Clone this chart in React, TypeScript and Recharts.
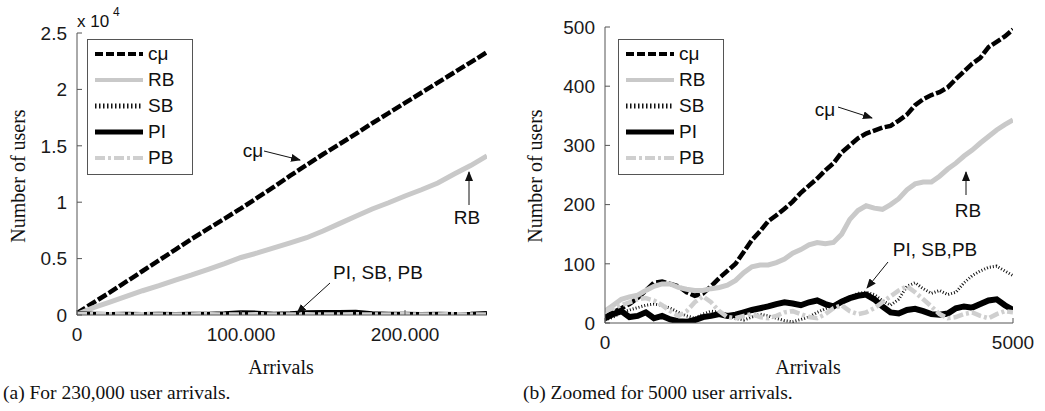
import { LineChart, Line, XAxis, YAxis, Legend } from 'recharts';

// (a) full run, sampled every 10,000 arrivals
const bigArrivals = [
  0, 10000, 20000, 30000, 40000, 50000, 60000, 70000, 80000, 90000, 100000, 110000, 120000,
  130000, 140000, 150000, 160000, 170000, 180000, 190000, 200000, 210000, 220000, 230000, 240000, 250000,
];
const bigCmu = [
  150, 1100, 2000, 2950, 3900, 4850, 5800, 6750, 7650, 8550, 9450, 10400, 11350,
  12350, 13300, 14250, 15150, 16050, 17000, 17900, 18800, 19700, 20600, 21500, 22400, 23300,
];
const bigRb = [
  50, 650, 1150, 1650, 2150, 2600, 3100, 3550, 4050, 4550, 5100, 5500, 5950,
  6400, 6850, 7450, 8100, 8750, 9400, 9950, 10550, 11100, 11700, 12500, 13250, 14100,
];
const bigSb = [50, 40, 60, 30, 50, 40, 30, 60, 40, 30, 50, 40, 60, 30, 40, 50, 40, 30, 60, 40, 50, 30, 40, 60, 40, 80];
const bigPi = [60, 20, 10, 20, 10, 20, 10, 30, 20, 60, 150, 120, 20, 60, 160, 180, 170, 190, 60, 30, 20, 10, 20, 10, 20, 100];
const bigPb = [80, 60, 70, 40, 60, 50, 40, 50, 60, 40, 50, 60, 40, 50, 60, 40, 50, 60, 40, 50, 60, 40, 50, 60, 50, 40];
const bigXTicks = [0, 100000, 200000];
const bigYTicks = [0, 5000, 10000, 15000, 20000, 25000];

// (b) first 5000 arrivals, sampled every 100
const zoomArrivals = [
  0, 100, 200, 300, 400, 500, 600, 700, 800, 900, 1000, 1100, 1200, 1300, 1400, 1500, 1600,
  1700, 1800, 1900, 2000, 2100, 2200, 2300, 2400, 2500, 2600, 2700, 2800, 2900, 3000, 3100,
  3200, 3300, 3400, 3500, 3600, 3700, 3800, 3900, 4000, 4100, 4200, 4300, 4400, 4500, 4600,
  4700, 4800, 4900, 5000,
];
const zoomCmu = [
  10, 18, 25, 32, 42, 55, 68, 70, 66, 62, 52, 46, 50, 62, 76, 88, 100,
  120, 140, 155, 172, 182, 193, 205, 220, 232, 244, 258, 270, 288, 300, 312,
  320, 325, 330, 333, 342, 352, 368, 378, 385, 390, 398, 412, 425, 438, 448,
  466, 475, 484, 496,
];
const zoomRb = [
  20, 30, 40, 44, 47, 55, 62, 66, 66, 60, 57, 55, 55, 58, 60, 64, 72,
  85, 95, 98, 98, 102, 108, 118, 124, 132, 136, 134, 136, 150, 175, 190,
  198, 194, 192, 200, 210, 225, 235, 238, 238, 248, 260, 270, 282, 292, 304,
  315, 326, 335, 343,
];
const zoomSb = [
  5, 10, 18, 22, 26, 30, 32, 30, 25, 18, 12, 8, 15, 20, 18, 12, 8,
  5, 10, 15, 12, 8, 4, 2, 6, 10, 18, 24, 30, 38, 44, 50,
  52, 48, 38, 30, 40, 62, 68, 58, 50, 55, 48, 52, 68, 80, 88,
  94, 96, 88, 80,
];
const zoomPi = [
  8, 15, 20, 10, 12, 18, 8, 12, 6, 3, 2, 5, 10, 12, 15, 12, 14,
  18, 22, 25, 28, 32, 35, 33, 30, 35, 38, 32, 28, 36, 42, 46,
  48, 40, 28, 18, 16, 22, 24, 20, 15, 14, 16, 25, 28, 26, 32,
  38, 40, 30, 22,
];
const zoomPb = [
  20, 25, 30, 35, 40, 42, 38, 30, 20, 12, 20, 35, 45, 35, 20, 10, 8,
  12, 15, 10, 8, 12, 18, 20, 15, 10, 8, 15, 25, 30, 20, 15,
  18, 25, 35, 45, 55, 62, 52, 40, 28, 15, 8, 10, 15, 18, 12,
  8, 15, 20, 18,
];
const zoomXTicks = [0, 5000];
const zoomYTicks = [0, 100, 200, 300, 400, 500];

const bigData = bigArrivals.map((x, i) => ({
  x, cmu: bigCmu[i], rb: bigRb[i], sb: bigSb[i], pi: bigPi[i], pb: bigPb[i],
}));
const zoomData = zoomArrivals.map((x, i) => ({
  x, cmu: zoomCmu[i], rb: zoomRb[i], sb: zoomSb[i], pi: zoomPi[i], pb: zoomPb[i],
}));

const SERIES = [
  { key: 'cmu', name: 'cμ', color: '#000', width: 4.5, dash: '10 2.5', legendDash: '8 3', legendWidth: 4 },
  { key: 'rb', name: 'RB', color: '#c9c9c9', width: 5, dash: undefined, legendDash: undefined, legendWidth: 4 },
  { key: 'sb', name: 'SB', color: '#111', width: 3, dash: '1 2', legendDash: '1.5 2.5', legendWidth: 5 },
  { key: 'pi', name: 'PI', color: '#000', width: 6, dash: undefined, legendDash: undefined, legendWidth: 5 },
  { key: 'pb', name: 'PB', color: '#cfcfcf', width: 4.5, dash: '10 3 3 3', legendDash: '10 3 3 3', legendWidth: 4 },
];

const serif = "'Liberation Serif', 'Times New Roman', serif";
const sans = "'Liberation Sans', Arial, sans-serif";

const TICK = { fill: '#1a1a1a', fontSize: 19, fontFamily: sans };
const FRAME = '#555';

function LegendBox() {
  return (
    <div
      style={{
        border: `1px solid ${FRAME}`,
        background: '#fff',
        padding: '1px 8px 3px 7px',
        width: 106,
        boxSizing: 'border-box',
      }}
    >
      {SERIES.map((s) => (
        <div key={s.key} style={{ display: 'flex', alignItems: 'center', height: 26 }}>
          <svg width={48} height={10}>
            <line
              x1={0}
              x2={48}
              y1={5}
              y2={5}
              stroke={s.color}
              strokeWidth={s.legendWidth}
              strokeDasharray={s.legendDash}
            />
          </svg>
          <span
            style={{
              marginLeft: 5,
              fontFamily: sans,
              fontSize: 19,
              lineHeight: '26px',
              color: '#111',
            }}
          >
            {s.name}
          </span>
        </div>
      ))}
    </div>
  );
}

function Panel({
  data,
  width,
  height,
  margin,
  xDomain,
  yDomain,
  xTicks,
  yTicks,
  xFormat,
  yFormat,
  legendPos,
}: {
  data: Record<string, number>[];
  width: number;
  height: number;
  margin: { top: number; right: number; bottom: number; left: number };
  xDomain: [number, number];
  yDomain: [number, number];
  xTicks: number[];
  yTicks: number[];
  xFormat: (v: number) => string;
  yFormat: (v: number) => string;
  legendPos: { left: number; top: number };
}) {
  return (
    <LineChart width={width} height={height} data={data} margin={margin}>
      <XAxis
        dataKey="x"
        type="number"
        domain={xDomain}
        ticks={xTicks}
        tickFormatter={xFormat}
        tick={TICK}
        tickSize={-5}
        tickMargin={18}
        height={30}
        stroke={FRAME}
        allowDataOverflow
      />
      <XAxis
        xAxisId="top"
        orientation="top"
        type="number"
        domain={xDomain}
        ticks={xTicks}
        tick={false}
        tickSize={-5}
        height={0}
        stroke={FRAME}
      />
      <YAxis
        type="number"
        domain={yDomain}
        ticks={yTicks}
        tickFormatter={yFormat}
        tick={TICK}
        tickSize={-5}
        tickMargin={15}
        width={45}
        stroke={FRAME}
        allowDataOverflow
      />
      <YAxis
        yAxisId="right"
        orientation="right"
        type="number"
        domain={yDomain}
        ticks={yTicks}
        tick={false}
        tickSize={-5}
        width={0}
        stroke={FRAME}
      />
      <Legend
        layout="vertical"
        align="center"
        verticalAlign="middle"
        content={() => <LegendBox />}
        wrapperStyle={{ left: legendPos.left, top: legendPos.top, width: 106 }}
      />
      {SERIES.map((s) => (
        <Line
          key={s.key}
          dataKey={s.key}
          name={s.name}
          stroke={s.color}
          strokeWidth={s.width}
          strokeDasharray={s.dash}
          dot={false}
          type="linear"
          isAnimationActive={false}
        />
      ))}
    </LineChart>
  );
}

export default function App() {
  return (
    <div style={{ position: 'relative', width: 1045, height: 411, background: '#fff', overflow: 'hidden' }}>
      <style>{'body{margin:0}'}</style>
      <div style={{ position: 'absolute', left: 0, top: 0 }}>
        <Panel
          data={bigData}
          width={500}
          height={360}
          margin={{ top: 33, right: 13, bottom: 15, left: 32 }}
          xDomain={[0, 250000]}
          yDomain={[0, 25000]}
          xTicks={bigXTicks}
          yTicks={bigYTicks}
          xFormat={(v) => (v === 0 ? '0' : `${v / 1000}.000`)}
          yFormat={(v) => String(v / 10000)}
          legendPos={{ left: 87, top: 39 }}
        />
      </div>
      <div style={{ position: 'absolute', left: 520, top: 0 }}>
        <Panel
          data={zoomData}
          width={525}
          height={360}
          margin={{ top: 27, right: 32, bottom: 7, left: 40 }}
          xDomain={[0, 5000]}
          yDomain={[0, 500]}
          xTicks={zoomXTicks}
          yTicks={zoomYTicks}
          xFormat={(v) => String(v)}
          yFormat={(v) => String(v)}
          legendPos={{ left: 98, top: 39 }}
        />
      </div>
      <svg
        width={1045}
        height={411}
        style={{ position: 'absolute', left: 0, top: 0, pointerEvents: 'none' }}
      >
        <defs>
          <marker id="arrowHead" markerWidth="10" markerHeight="8" refX="9" refY="4" orient="auto" markerUnits="userSpaceOnUse">
            <path d="M0,0 L10,4 L0,8 Z" fill="#111" />
          </marker>
        </defs>

        {/* panel (a) */}
        <text x={77} y={27} style={{ fontFamily: sans }} fontSize={17} fill="#111">x 10</text>
        <text x={113} y={16} style={{ fontFamily: sans }} fontSize={12} fill="#111">4</text>
        <text x={18} y={176} style={{ fontFamily: serif }} fontSize={20} fill="#111" textAnchor="middle" dominantBaseline="central" transform="rotate(-90 18 176)">
          Number of users
        </text>
        <text x={281} y={374} style={{ fontFamily: serif }} fontSize={20} fill="#111" textAnchor="middle">Arrivals</text>
        <text x={253} y={157} style={{ fontFamily: sans }} fontSize={19} fill="#111" textAnchor="middle">cμ</text>
        <line x1={264} y1={151} x2={300} y2={160} stroke="#111" strokeWidth={1} markerEnd="url(#arrowHead)" />
        <text x={467} y={224} style={{ fontFamily: sans }} fontSize={19} fill="#111" textAnchor="middle">RB</text>
        <line x1={469} y1={205} x2={469} y2={172} stroke="#111" strokeWidth={1} markerEnd="url(#arrowHead)" />
        <text x={378} y={279} style={{ fontFamily: sans }} fontSize={19} fill="#111" textAnchor="middle">PI, SB, PB</text>
        <line x1={330} y1={283} x2={297} y2={313} stroke="#111" strokeWidth={1} markerEnd="url(#arrowHead)" />
        <text x={3} y={399} style={{ fontFamily: serif }} fontSize={19.5} fill="#111">(a) For 230,000 user arrivals.</text>

        {/* panel (b) */}
        <text x={535} y={176} style={{ fontFamily: serif }} fontSize={20} fill="#111" textAnchor="middle" dominantBaseline="central" transform="rotate(-90 535 176)">
          Number of users
        </text>
        <text x={808} y={374} style={{ fontFamily: serif }} fontSize={20} fill="#111" textAnchor="middle">Arrivals</text>
        <text x={825} y={116} style={{ fontFamily: sans }} fontSize={19} fill="#111" textAnchor="middle">cμ</text>
        <line x1={838} y1={107} x2={872} y2={118} stroke="#111" strokeWidth={1} markerEnd="url(#arrowHead)" />
        <text x={968} y={217} style={{ fontFamily: sans }} fontSize={19} fill="#111" textAnchor="middle">RB</text>
        <line x1={966} y1={195} x2={966} y2={172} stroke="#111" strokeWidth={1} markerEnd="url(#arrowHead)" />
        <text x={935} y={256} style={{ fontFamily: sans }} fontSize={19} fill="#111" textAnchor="middle">PI, SB,PB</text>
        <line x1={888} y1={262} x2={867} y2={288} stroke="#111" strokeWidth={1} markerEnd="url(#arrowHead)" />
        <text x={523} y={399} style={{ fontFamily: serif }} fontSize={19.5} fill="#111">(b) Zoomed for 5000 user arrivals.</text>
      </svg>
    </div>
  );
}
